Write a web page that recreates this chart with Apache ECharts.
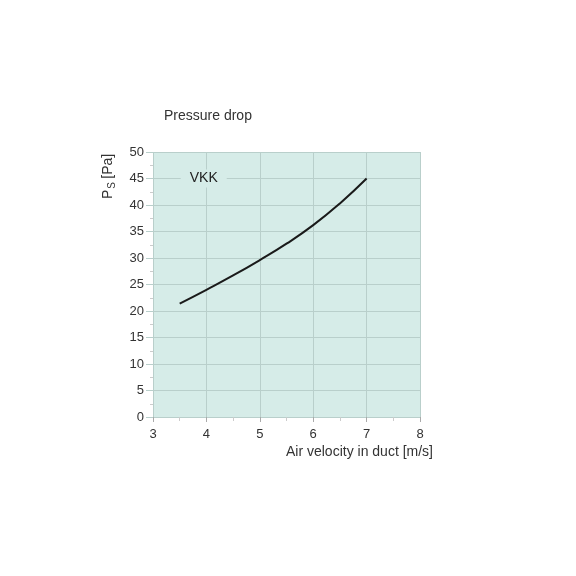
<!DOCTYPE html>
<html>
<head>
<meta charset="utf-8">
<script src="https://cdn.jsdelivr.net/npm/echarts@6/dist/echarts.min.js"></script>
<style>
  html, body { margin: 0; padding: 0; background: #fff; }
  #chart { width: 576px; height: 576px; }
</style>
</head>
<body>
<div id="chart"></div>
<script>
// air velocity [m/s] and static pressure drop [Pa]
const velocity = [3.5, 4, 4.5, 5, 5.5, 6, 6.5, 7];
const pressure = [21.4, 24.0, 26.7, 29.6, 32.7, 36.2, 40.3, 45.0];
const seriesName = 'VKK';
const labelPos = [3.95, 45];

const chartArea = document.getElementById('chart');
const chart = echarts.init(chartArea);

const font = 'Liberation Sans';
const textColor = '#333';
const gridColor = '#b9cfcb';
const plotFill = '#d6ece8';

const points = velocity.map((v, i) => [v, pressure[i]]);

const options = {
  animation: false,
  textStyle: { fontFamily: font },
  title: {
    text: 'Pressure drop',
    left: 159,
    top: 104,
    textStyle: { fontSize: 14, fontWeight: 'normal', color: textColor, fontFamily: font }
  },
  grid: {
    left: 153,
    right: 156,
    top: 152,
    bottom: 159,
    show: true,
    backgroundColor: plotFill,
    borderWidth: 0
  },
  xAxis: {
    type: 'value',
    min: 3,
    max: 8,
    interval: 1,
    name: 'Air velocity in duct [m/s]',
    nameLocation: 'end',
    nameGap: 0,
    nameTextStyle: {
      fontSize: 14, color: textColor, fontFamily: font,
      align: 'right', verticalAlign: 'top', padding: [28, -13, 0, 0]
    },
    axisLine: { show: false },
    axisTick: { show: true, length: 5, lineStyle: { color: '#aaa' } },
    minorTick: { show: true, splitNumber: 2, length: 4, lineStyle: { color: '#ccc' } },
    axisLabel: { fontSize: 13, color: textColor, margin: 11 },
    splitLine: { show: true, lineStyle: { color: gridColor, width: 1 } }
  },
  yAxis: {
    type: 'value',
    min: 0,
    max: 50,
    interval: 5,
    axisLine: { show: false },
    axisTick: { show: true, length: 7, lineStyle: { color: gridColor } },
    minorTick: { show: true, splitNumber: 2, length: 3, lineStyle: { color: '#ccc' } },
    axisLabel: { fontSize: 13, color: textColor, margin: 9 },
    splitLine: { show: true, lineStyle: { color: gridColor, width: 1 } }
  },
  graphic: [
    {
      type: 'text',
      x: 100,
      y: 199,
      rotation: Math.PI / 2,
      style: {
        text: '{p|P}{s|S} {p|[Pa]}',
        fill: textColor,
        fontFamily: font,
        rich: {
          p: { fontSize: 14, fontFamily: font, fill: textColor },
          s: { fontSize: 10, fontFamily: font, fill: textColor, verticalAlign: 'bottom', padding: [7, 0, 0, 1] }
        }
      }
    }
  ],
  series: [
    {
      name: seriesName,
      type: 'line',
      data: points,
      smooth: true,
      showSymbol: false,
      lineStyle: { color: '#1a1a1a', width: 2 },
      markPoint: {
        symbol: 'rect',
        symbolSize: 0,
        data: [{ coord: labelPos }],
        label: {
          show: true,
          formatter: seriesName,
          position: 'inside',
          fontSize: 14,
          fontFamily: font,
          color: '#222',
          backgroundColor: plotFill,
          padding: [2, 9]
        }
      }
    }
  ]
};

chart.setOption(options);
</script>
</body>
</html>
